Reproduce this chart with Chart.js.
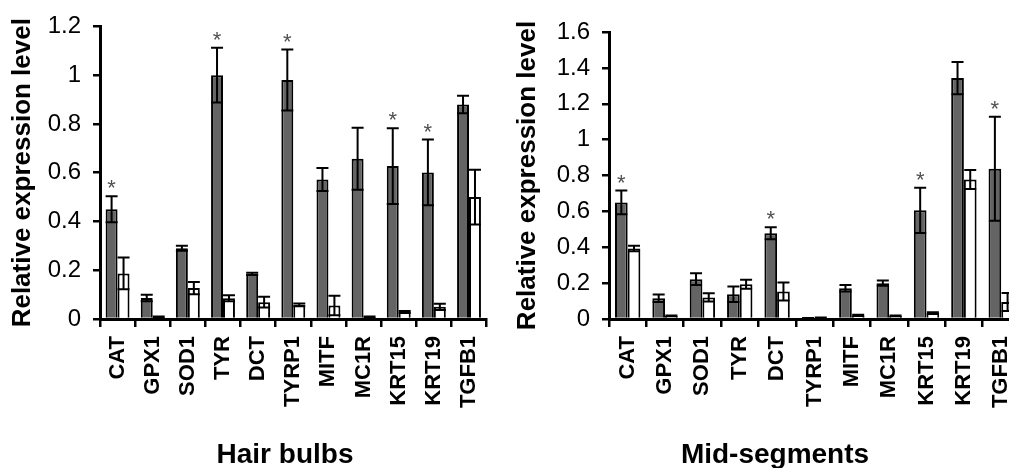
<!DOCTYPE html>
<html>
<head>
<meta charset="utf-8">
<script src="https://cdn.jsdelivr.net/npm/chart.js@4.4.0/dist/chart.umd.min.js"></script>
<style>
  html, body { margin: 0; padding: 0; background: #fff; overflow: hidden; width: 1009px; height: 468px; }
  #c1 { position: absolute; left: 0; top: 0; }
  #c2 { position: absolute; left: 505px; top: 0; }
</style>
</head>
<body>
<canvas id="c1" width="505" height="468"></canvas>
<canvas id="c2" width="532" height="468"></canvas>
<script>
const genes = ["CAT", "GPX1", "SOD1", "TYR", "DCT", "TYRP1", "MITF", "MC1R", "KRT15", "KRT19", "TGFB1"];

// Hair bulbs
const bulbTicks = [0, 0.2, 0.4, 0.6, 0.8, 1, 1.2];
const bulbGrey = [0.45, 0.086, 0.29, 1.0, 0.185, 0.98, 0.572, 0.657, 0.627, 0.601, 0.88];
const bulbGreyErr = [0.053, 0.013, 0.01, 0.112, 0.005, 0.125, 0.047, 0.127, 0.155, 0.135, 0.036];
const bulbWhite = [0.187, 0.008, 0.127, 0.085, 0.069, 0.058, 0.055, 0.008, 0.029, 0.05, 0.50];
const bulbWhiteErr = [0.065, 0.002, 0.025, 0.012, 0.022, 0.006, 0.04, 0.002, 0.004, 0.013, 0.112];
const bulbStars = [1, 0, 0, 1, 0, 1, 0, 0, 1, 1, 0];

// Mid-segments
const midTicks = [0, 0.2, 0.4, 0.6, 0.8, 1, 1.2, 1.4, 1.6];
const midGrey = [0.65, 0.116, 0.222, 0.138, 0.478, 0.004, 0.172, 0.2, 0.606, 1.343, 0.838];
const midGreyErr = [0.066, 0.021, 0.033, 0.043, 0.033, 0.002, 0.018, 0.015, 0.126, 0.09, 0.29];
const midWhite = [0.393, 0.018, 0.12, 0.194, 0.153, 0.006, 0.02, 0.018, 0.033, 0.778, 0.095];
const midWhiteErr = [0.015, 0.002, 0.023, 0.025, 0.05, 0.002, 0.003, 0.002, 0.005, 0.053, 0.05];
const midStars = [1, 0, 0, 0, 1, 0, 0, 0, 1, 0, 1];

const FONT = "'Liberation Sans', Arial, sans-serif";

// error bars (both caps) and the significance stars
const errorBars = {
  id: "errorBars",
  afterDatasetsDraw(chart) {
    const { ctx } = chart;
    const y = chart.scales.y;
    ctx.save();
    ctx.strokeStyle = "#000";
    ctx.lineWidth = 2;
    ctx.fillStyle = "#505050";
    ctx.font = "22px " + FONT;
    ctx.textAlign = "center";
    ctx.textBaseline = "alphabetic";
    chart.data.datasets.forEach((ds, i) => {
      const meta = chart.getDatasetMeta(i);
      meta.data.forEach((bar, j) => {
        const v = ds.data[j], e = ds.errors[j];
        const yt = y.getPixelForValue(v + e);
        const yb = y.getPixelForValue(Math.max(0, v - e));
        const half = 6;
        ctx.beginPath();
        ctx.moveTo(bar.x, yt); ctx.lineTo(bar.x, yb);
        ctx.moveTo(bar.x - half, yt); ctx.lineTo(bar.x + half, yt);
        ctx.moveTo(bar.x - half, yb); ctx.lineTo(bar.x + half, yb);
        ctx.stroke();
        if (ds.stars && ds.stars[j]) ctx.fillText("*", bar.x, yt - 1);
      });
    });
    ctx.restore();
  }
};

const bottomTitle = {
  id: "bottomTitle",
  afterDraw(chart, args, opts) {
    const { ctx } = chart;
    ctx.save();
    ctx.fillStyle = "#000";
    ctx.font = "bold 28px " + FONT;
    ctx.textAlign = "center";
    ctx.textBaseline = "alphabetic";
    ctx.fillText(opts.text, opts.x, opts.y);
    ctx.restore();
  }
};

function makeChart(id, grey, greyErr, white, whiteErr, stars, ticks, title, opt) {
  return new Chart(document.getElementById(id), {
    type: "bar",
    data: {
      labels: genes,
      datasets: [
        {
          data: grey,
          errors: greyErr,
          stars: stars,
          backgroundColor: "#646464",
          borderColor: "#000",
          borderWidth: 2,
        },
        {
          data: white,
          errors: whiteErr,
          backgroundColor: "#fff",
          borderColor: "#000",
          borderWidth: 2,
        },
      ],
    },
    options: {
      responsive: false,
      animation: false,
      devicePixelRatio: 1,
      categoryPercentage: 0.68,
      barPercentage: 1.0,
      layout: { padding: { top: opt.top, right: opt.right, left: 0, bottom: 0 } },
      plugins: {
        legend: { display: false },
        tooltip: { enabled: false },
        bottomTitle: { text: title, x: opt.titleX, y: 463 },
      },
      scales: {
        x: {
          grid: { display: true, drawOnChartArea: false, color: "#000", lineWidth: 2.5, tickLength: 8, offset: true },
          border: { color: "#000", width: 3 },
          ticks: {
            color: "#000",
            font: { family: FONT, size: 22, weight: "bold" },
            minRotation: 90,
            maxRotation: 90,
            padding: 9,
            autoSkip: false,
          },
          afterFit: (s) => { s.height = 468 - 319; },
        },
        y: {
          min: 0,
          max: ticks[ticks.length - 1],
          afterBuildTicks: (s) => { s.ticks = ticks.map((v) => ({ value: v })); },
          grid: { display: true, drawOnChartArea: false, color: "#000", lineWidth: 2.5, tickLength: 7 },
          border: { color: "#000", width: 3 },
          ticks: {
            color: "#000",
            font: { family: FONT, size: 24 },
            padding: 12,
            callback: (v) => String(v),
          },
          title: {
            display: true,
            text: "Relative expression level",
            color: "#000",
            font: { family: FONT, size: 26, weight: "bold" },
            padding: { top: 7, bottom: 0 },
          },
          afterFit: (s) => { s.width = opt.yw; },
        },
      },
    },
    plugins: [errorBars, bottomTitle],
  });
}

makeChart("c1", bulbGrey, bulbGreyErr, bulbWhite, bulbWhiteErr, bulbStars, bulbTicks, "Hair bulbs",
  { top: 21, right: 13, yw: 100, titleX: 285 });
makeChart("c2", midGrey, midGreyErr, midWhite, midWhiteErr, midStars, midTicks, "Mid-segments",
  { top: 32, right: 8, yw: 104, titleX: 270 });
</script>
</body>
</html>
